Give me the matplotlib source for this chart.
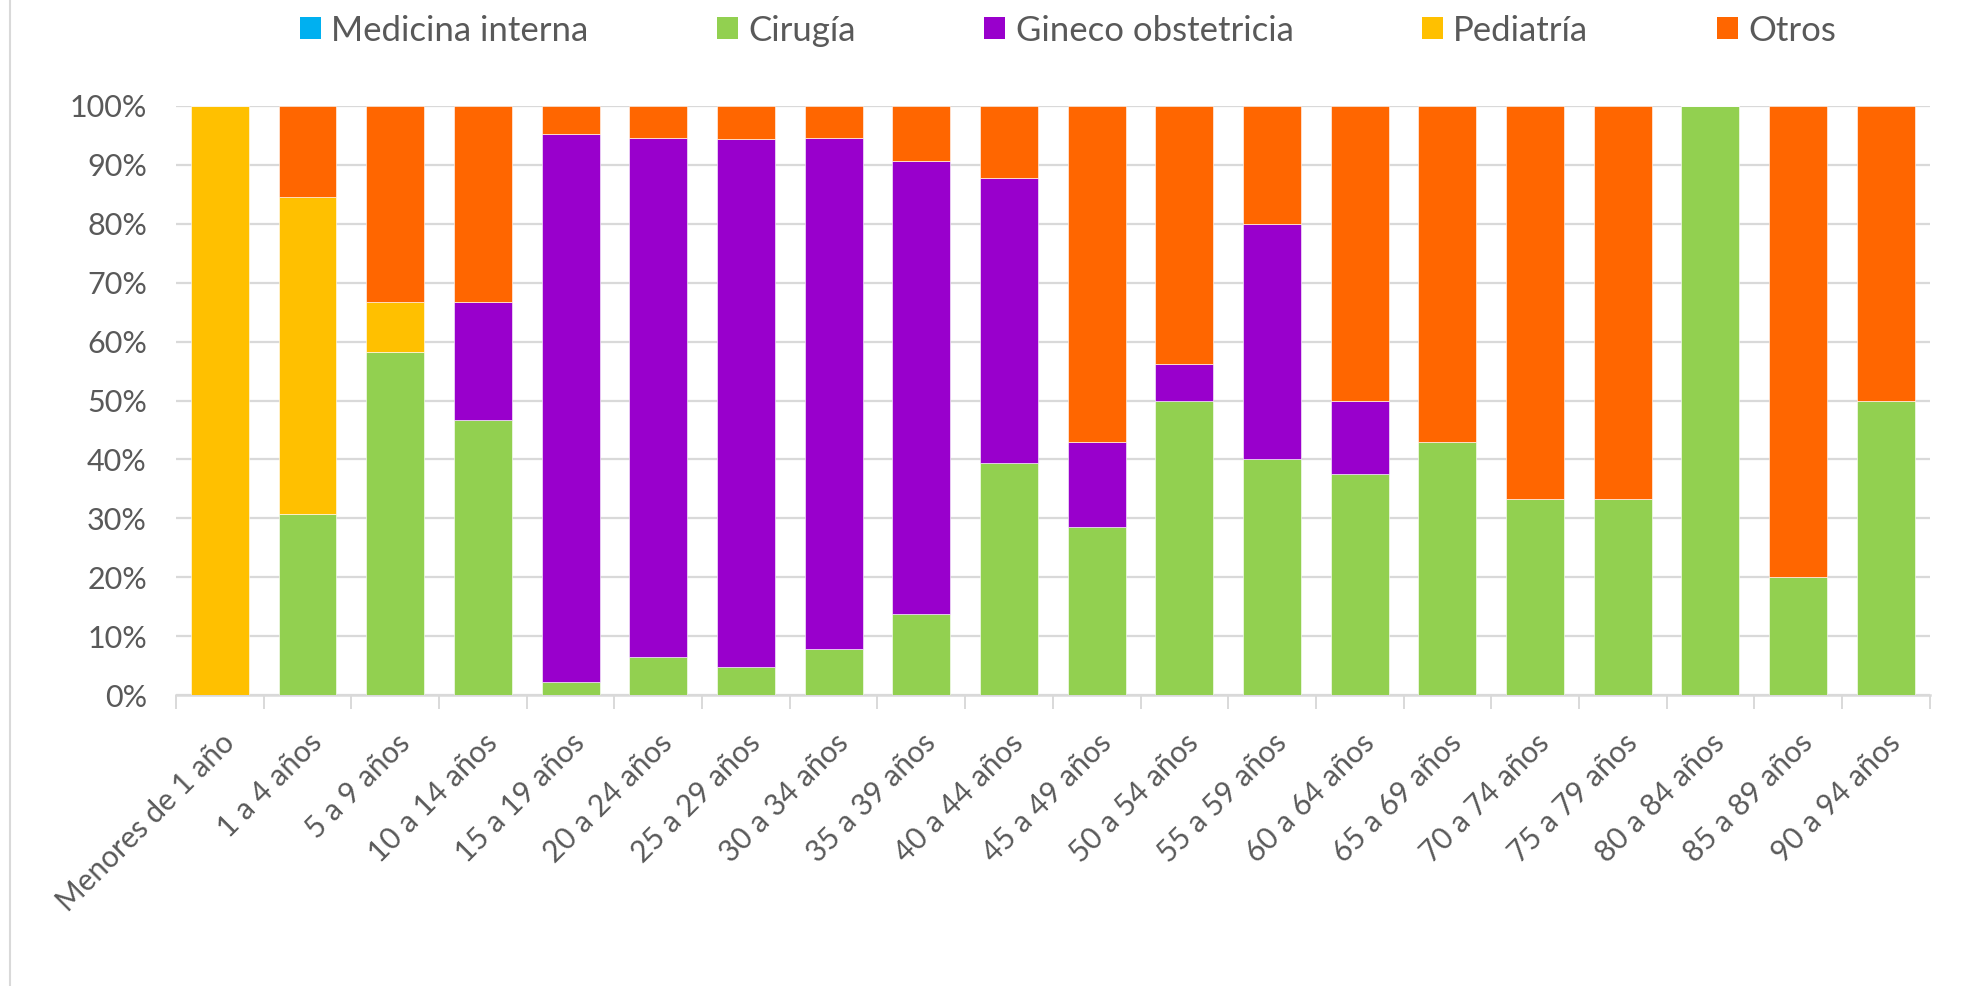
import matplotlib.pyplot as plt
import matplotlib
import numpy as np
from matplotlib.patches import Patch
from matplotlib.lines import Line2D

matplotlib.rcParams.update({'font.family': ['Lato', 'DejaVu Sans'], 'font.size': 20})

# Datos: porcentaje por grupo de edad (cada barra suma 100 %)
grupos = ["Menores de 1 año", "1 a 4 años", "5 a 9 años", "10 a 14 años", "15 a 19 años",
          "20 a 24 años", "25 a 29 años", "30 a 34 años", "35 a 39 años", "40 a 44 años",
          "45 a 49 años", "50 a 54 años", "55 a 59 años", "60 a 64 años", "65 a 69 años",
          "70 a 74 años", "75 a 79 años", "80 a 84 años", "85 a 89 años", "90 a 94 años"]
medicina_interna = [0, 0, 0, 0, 0, 0, 0, 0, 0, 0, 0, 0, 0, 0, 0, 0, 0, 0, 0, 0]
cirugia = [0, 30.8, 58.3, 46.7, 2.3, 6.4, 4.8, 7.9, 13.8, 39.4,
           28.6, 50.0, 40.0, 37.5, 42.9, 33.3, 33.3, 100.0, 20.0, 50.0]
gineco = [0, 0, 0, 20.0, 93.0, 88.2, 89.6, 86.7, 76.8, 48.4,
          14.3, 6.25, 40.0, 12.5, 0, 0, 0, 0, 0, 0]
pediatria = [100.0, 53.8, 8.4, 0, 0, 0, 0, 0, 0, 0,
             0, 0, 0, 0, 0, 0, 0, 0, 0, 0]
otros = [0, 15.4, 33.3, 33.3, 4.7, 5.4, 5.6, 5.4, 9.4, 12.2,
         57.1, 43.75, 20.0, 50.0, 57.1, 66.7, 66.7, 0, 80.0, 50.0]

series = [("Medicina interna", medicina_interna, "#00B0F0"),
          ("Cirugía", cirugia, "#92D050"),
          ("Gineco obstetricia", gineco, "#9900CC"),
          ("Pediatría", pediatria, "#FFC000"),
          ("Otros", otros, "#FF6600")]

gris = "#595959"
fig = plt.figure(figsize=(19.67, 9.86), dpi=100)
ax = fig.add_axes([0.0895, 0.295, 0.8915, 0.5975])

x = np.arange(len(grupos))
base = np.zeros(len(grupos))
for nombre, valores, color in series:
    v = np.array(valores, dtype=float)
    ax.bar(x, v, 0.66, bottom=base, color=color, edgecolor="white", linewidth=0.4, zorder=3)
    base += v

ax.set_xlim(-0.5, len(grupos) - 0.5)
ax.set_ylim(0, 100)
ax.set_yticks(np.arange(0, 101, 10))
ax.set_yticklabels([f"{v}%" for v in range(0, 101, 10)], color=gris, fontsize=22)
ax.yaxis.grid(True, color="#D9D9D9", linewidth=1.6, zorder=0)
ax.tick_params(axis="y", length=0, pad=21)

ax.set_xticks(x)
ax.set_xticklabels(grupos, rotation=45, ha="right", rotation_mode="anchor", color=gris, fontsize=21.5)
ax.set_xticks(np.arange(-0.5, len(grupos)), minor=True)
ax.tick_params(axis="x", which="major", length=0, pad=24)
ax.tick_params(axis="x", which="minor", length=10, width=1.4, color="#D9D9D9")

for s in ["top", "right", "left"]:
    ax.spines[s].set_visible(False)
ax.spines["bottom"].set_color("#D9D9D9")
ax.spines["bottom"].set_linewidth(1.8)

manijas = [Patch(facecolor=c, edgecolor="none") for _, _, c in series]
fig.legend(manijas, [n for n, _, _ in series], loc="center", bbox_to_anchor=(0.543, 0.969),
           ncol=5, frameon=False, fontsize=25, handlelength=0.6, handleheight=0.6,
           handletextpad=0.3, columnspacing=3.7, labelcolor=gris)

# borde izquierdo del área del gráfico
fig.add_artist(Line2D([10 / 1967, 10 / 1967], [0, 1], transform=fig.transFigure,
                      color="#D9D9D9", linewidth=1.5))

plt.savefig("out.png", dpi=100)
